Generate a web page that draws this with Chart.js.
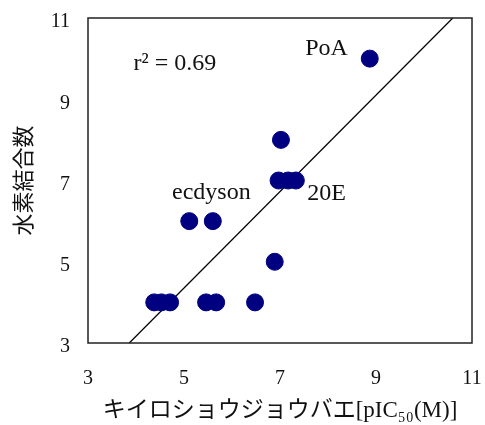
<!DOCTYPE html>
<html><head><meta charset="utf-8">
<script src="https://cdn.jsdelivr.net/npm/chart.js@4/dist/chart.umd.min.js"></script>
<style>html,body{margin:0;padding:0;background:#fff}#wrap{width:485px;height:425px}</style>
</head><body><div id="wrap"><canvas id="c" width="485" height="425"></canvas></div>
<script>
const pIC50 = [8.87, 7.02, 6.97, 7.17, 7.33, 5.11, 5.60, 6.89, 4.38, 4.53, 4.71, 5.46, 5.67, 6.48];
const hBonds = [10, 8, 7, 7, 7, 6, 6, 5, 4, 4, 4, 4, 4, 4];
const fitX = [3.86, 10.6];
const fitY = [3, 11];
const xTicks = [3, 5, 7, 9, 11];
const yTicks = [3, 5, 7, 9, 11];
const labelText = ["PoA", "ecdyson", "20E", "r² = 0.69"];
const labelX = [7.97, 5.57, 7.97, 4.81];
const labelY = [10.25, 6.7, 6.67, 9.87];

const serif = "'Liberation Serif','DejaVu Serif','Noto Sans CJK JP',serif";

const boxPlugin = {
  id: 'box',
  afterDatasetsDraw(chart) {
    const {ctx, chartArea: a, scales} = chart;
    ctx.save();
    ctx.strokeStyle = '#222';
    ctx.lineWidth = 1.5;
    ctx.strokeRect(a.left, a.top, a.right - a.left, a.bottom - a.top);
    ctx.fillStyle = '#111';
    ctx.font = "24px " + serif;
    ctx.textAlign = 'center';
    ctx.textBaseline = 'middle';
    for (let i = 0; i < labelText.length; i++) {
      ctx.fillText(labelText[i], scales.x.getPixelForValue(labelX[i]), scales.y.getPixelForValue(labelY[i]));
    }
    ctx.restore();
  }
};

function noPad(s) { s.paddingLeft = 0; s.paddingRight = 0; s.paddingTop = 0; s.paddingBottom = 0; }

new Chart(document.getElementById('c'), {
  type: 'scatter',
  data: {
    datasets: [
      {
        type: 'line',
        data: fitX.map((x, i) => ({x, y: fitY[i]})),
        borderColor: '#000',
        borderWidth: 1.2,
        pointRadius: 0,
        fill: false,
        order: 2
      },
      {
        data: pIC50.map((x, i) => ({x, y: hBonds[i]})),
        backgroundColor: '#000080',
        borderColor: '#000080',
        pointRadius: 8.5,
        pointHoverRadius: 8.5,
        order: 1
      }
    ]
  },
  plugins: [boxPlugin],
  options: {
    responsive: false,
    animation: false,
    clip: false,
    layout: {padding: {left: 0, top: 18, right: 13, bottom: 0}},
    plugins: {legend: {display: false}, tooltip: {enabled: false}},
    scales: {
      x: {
        type: 'linear', min: 3, max: 11,
        afterBuildTicks: s => { s.ticks = xTicks.map(v => ({value: v})); },
        grid: {display: false, drawTicks: false},
        border: {display: false},
        ticks: {color: '#111', padding: 24, font: {family: serif, size: 20}},
        title: {display: true, text: 'キイロショウジョウバエ[pIC₅₀(M)]', color: '#111', font: {family: serif, size: 23}, padding: {top: 8, bottom: 0}},
        afterFit: s => { s.height = 82; noPad(s); }
      },
      y: {
        type: 'linear', min: 3, max: 11,
        afterBuildTicks: s => { s.ticks = yTicks.map(v => ({value: v})); },
        grid: {display: false, drawTicks: false},
        border: {display: false},
        ticks: {color: '#111', padding: 18, labelOffset: 4, font: {family: serif, size: 20}},
        title: {display: true, text: '水素結合数', color: '#111', font: {family: "'Noto Sans CJK JP',sans-serif", size: 22}, padding: {top: 9, bottom: 0}},
        afterFit: s => { s.width = 88; noPad(s); }
      }
    }
  }
});
</script>
</body></html>
